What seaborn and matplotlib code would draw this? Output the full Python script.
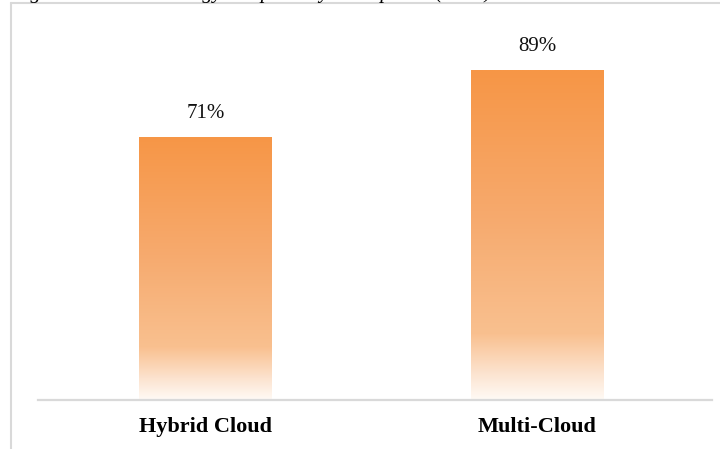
import numpy as np
import pandas as pd
import matplotlib
matplotlib.use("Agg")
import matplotlib.pyplot as plt
from matplotlib.lines import Line2D
from matplotlib.colors import LinearSegmentedColormap
import seaborn as sns

categories = ["Hybrid Cloud", "Multi-Cloud"]
values = [71, 89]
value_labels = ["71%", "89%"]
title_text = "Figure 2: Cloud Strategy Adoption by Enterprises (2024)"

sns.set_theme(style="white")
plt.rcParams["font.family"] = ["Liberation Serif", "DejaVu Serif"]

df = pd.DataFrame({"cat": categories, "val": values})

fig = plt.figure(figsize=(7.2, 4.49), dpi=100)
ax = fig.add_axes([38 / 720, 49 / 449, (712 - 38) / 720, (400 - 29.5) / 449])

sns.barplot(data=df, x="cat", y="val", ax=ax, width=0.40, color="#F79646",
            saturation=1)

# gradient fill, per bar (from bottom to top)
cmap = LinearSegmentedColormap.from_list(
    "grad",
    [(0.0, "#FFFAF5"), (0.08, "#FCE3CF"), (0.2, "#F9C08F"),
     (0.55, "#F6AA6E"), (1.0, "#F79646")])
grad = np.linspace(0, 1, 256).reshape(-1, 1)
for p in ax.patches:
    x0 = p.get_x()
    w = p.get_width()
    h = p.get_height()
    p.set_facecolor("none")
    p.set_edgecolor("none")
    im = ax.imshow(grad, cmap=cmap, aspect="auto", origin="lower",
                   extent=[x0, x0 + w, 0, h], zorder=2, interpolation="bilinear")
    im.set_clip_path(p)

ax.set_xlim(-0.505, 1.528)
ax.set_ylim(0, 100)

for i, (v, lab) in enumerate(zip(values, value_labels)):
    ax.annotate(lab, (i, v), xytext=(0, 10), textcoords="offset points",
                ha="center", va="bottom", fontsize=15, color="#111111")

ax.set_xlabel("")
ax.set_ylabel("")
ax.set_yticks([])
for s in ["top", "right", "left"]:
    ax.spines[s].set_visible(False)
ax.spines["bottom"].set_color("#d9d9d9")
ax.spines["bottom"].set_linewidth(1.6)
ax.tick_params(axis="x", length=0, pad=12)
for t in ax.get_xticklabels():
    t.set_fontweight("bold")
    t.set_fontsize(16)
    t.set_color("#000000")

# page frame lines
fig.add_artist(Line2D([11 / 720, 11 / 720], [0, 1 - 3 / 449],
                      transform=fig.transFigure, color="#d9d9d9", lw=1.5))
fig.add_artist(Line2D([11 / 720, 1], [1 - 3 / 449, 1 - 3 / 449],
                      transform=fig.transFigure, color="#d9d9d9", lw=1.5))

# cropped caption at very top (only its descenders show, as in the reference)
fig.text(12 / 720, 1 + 2 / 449, title_text, fontsize=15, style="italic",
         ha="left", va="baseline", color="#000000")

fig.savefig("out.png", dpi=100)
